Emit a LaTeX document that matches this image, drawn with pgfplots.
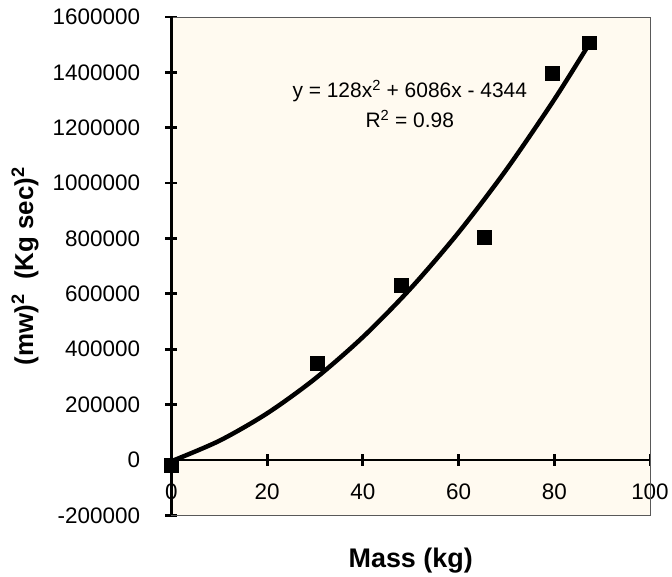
\documentclass[border=0pt]{standalone}
\usepackage{fontspec}
\setmainfont{Liberation Sans}
\usepackage{pgfplots}
\pgfplotsset{compat=1.18}
\definecolor{plotbg}{RGB}{255,250,240}

\begin{document}
\begin{tikzpicture}
\begin{axis}[
    scale only axis, width=480pt, height=500pt,
    xmin=0, xmax=100, ymin=-200000, ymax=1600000,
    xtick={0,20,40,60,80,100},
    xticklabels={0,20,40,60,80,100},
    ytick={-200000,0,200000,400000,600000,800000,1000000,1200000,1400000,1600000},
    yticklabels={-200000,0,200000,400000,600000,800000,1000000,1200000,1400000,1600000},
    axis x line=middle, axis y line=left,
    x axis line style={-, line width=2.8pt},
    y axis line style={-, line width=3pt},
    hide obscured x ticks=false, hide obscured y ticks=false,
    tick align=center, major tick length=12pt,
    major tick style={line width=2.8pt, black},
    axis background/.style={fill=plotbg},
    scaled y ticks=false,
    tick label style={font=\fontsize{22.5}{26}\selectfont},
    yticklabel style={anchor=east, xshift=-22pt},
    xticklabel shift=14pt,
    xlabel={Mass (kg)},
    xlabel style={at={(axis description cs:0.5,-0.09)}, anchor=center,
                  font=\fontsize{27}{30}\selectfont\bfseries},
    ylabel={(mw)\textsuperscript{2}\ \ (Kg sec)\textsuperscript{2}},
    ylabel style={at={(axis description cs:-0.306,0.5)}, anchor=center,
                  font=\fontsize{26}{30}\selectfont\bfseries},
    clip=false,
  ]
\draw[gray!70!black, line width=0.8pt] (rel axis cs:0,0) rectangle (rel axis cs:1,1);
\draw[black, line width=2.8pt] (axis cs:0,-200000) -- (axis cs:0,1600000);
\draw[black, line width=2.6pt] (axis cs:0,0) -- (axis cs:100,0);
% trend line y = 128x^2 + 6086x - 4344
\addplot[black, line width=4.5pt, smooth] coordinates {
  (0,-4344) (10,69316) (20,168576) (30,293436) (40,443896)
  (50,619956) (60,821616) (70,1048876) (80,1301736) (87.3,1502489)};
\addplot[only marks, mark=square*, mark size=7pt, black] coordinates {
  (0,-20000) (30.4,348000) (48,632000) (65.4,804000) (79.5,1398000) (87.3,1507000)};
\node[font=\fontsize{21}{30}\selectfont, align=center] at (axis cs:49.8,1285000)
  {y = 128x\textsuperscript{2} + 6086x - 4344\\R\textsuperscript{2} = 0.98};
\end{axis}
\path ([shift={(-172pt,-58pt)}]current axis.south west)
  rectangle ([shift={(20pt,17pt)}]current axis.north east);
\end{tikzpicture}
\end{document}
